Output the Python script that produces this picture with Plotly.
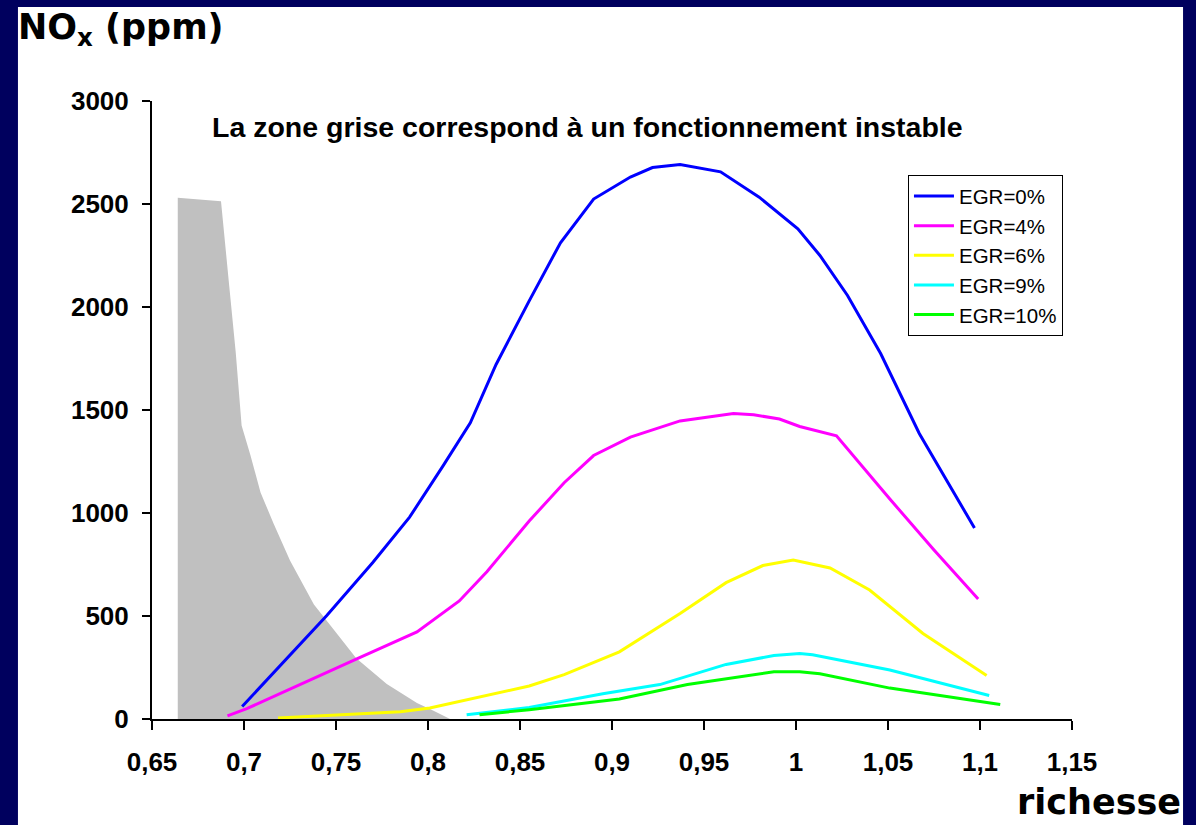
import plotly.graph_objects as go

# Zone grise (fonctionnement instable)
zone_x = [0.664, 0.6875, 0.692, 0.6955, 0.6987, 0.7035, 0.709, 0.716, 0.725, 0.738, 0.750, 0.761, 0.7776, 0.794, 0.803, 0.812]
zone_y = [2530, 2513, 2100, 1780, 1425, 1280, 1100, 950, 770, 556, 420, 295, 170, 78, 40, 0]

# Courbes NOx par taux d'EGR
egr0_x = [0.699, 0.745, 0.770, 0.790, 0.808, 0.823, 0.837, 0.855, 0.872, 0.890, 0.910, 0.922, 0.937, 0.959, 0.980, 1.001, 1.013, 1.028, 1.046, 1.067, 1.097]
egr0_y = [61, 502, 760, 980, 1226, 1438, 1721, 2030, 2312, 2524, 2631, 2677, 2692, 2656, 2533, 2380, 2250, 2056, 1774, 1386, 927]

egr4_x = [0.691, 0.7015, 0.761, 0.794, 0.817, 0.832, 0.855, 0.874, 0.890, 0.910, 0.937, 0.966, 0.977, 0.991, 1.002, 1.022, 1.051, 1.075, 1.099]
egr4_y = [15, 50, 291, 423, 573, 715, 961, 1147, 1279, 1368, 1447, 1483, 1477, 1456, 1420, 1375, 1068, 820, 582]

egr6_x = [0.7185, 0.785, 0.801, 0.855, 0.874, 0.904, 0.937, 0.962, 0.982, 0.9985, 1.0185, 1.040, 1.069, 1.1036]
egr6_y = [5, 35, 53, 160, 215, 326, 512, 662, 745, 772, 733, 626, 415, 211]

egr9_x = [0.821, 0.855, 0.895, 0.926, 0.962, 0.988, 1.002, 1.009, 1.051, 1.105]
egr9_y = [21, 56, 123, 167, 265, 308, 318, 312, 238, 114]

egr10_x = [0.828, 0.855, 0.904, 0.941, 0.988, 1.002, 1.013, 1.051, 1.111]
egr10_y = [21, 45, 97, 167, 229, 229, 220, 150, 70]

noms = ["EGR=0%", "EGR=4%", "EGR=6%", "EGR=9%", "EGR=10%"]
couleurs = ["#0000FF", "#FF00FF", "#FFFF00", "#00FFFF", "#00FF00"]

x_ticks = [0.65, 0.7, 0.75, 0.8, 0.85, 0.9, 0.95, 1, 1.05, 1.1, 1.15]
x_labels = ["0,65", "0,7", "0,75", "0,8", "0,85", "0,9", "0,95", "1", "1,05", "1,1", "1,15"]
y_ticks = [0, 500, 1000, 1500, 2000, 2500, 3000]

FONT = "Liberation Sans, Arial, sans-serif"
FONT_TITRE = "DejaVu Sans, Verdana, sans-serif"

fig = go.Figure()

# zone grise
fig.add_trace(go.Scatter(
    x=zone_x, y=zone_y, mode="lines", fill="tozeroy",
    fillcolor="#C0C0C0", line=dict(color="#C0C0C0", width=0),
    showlegend=False, hoverinfo="skip"
))

series = [(egr0_x, egr0_y), (egr4_x, egr4_y), (egr6_x, egr6_y), (egr9_x, egr9_y), (egr10_x, egr10_y)]
for (xs, ys), nom, coul in zip(series, noms, couleurs):
    fig.add_trace(go.Scatter(
        x=xs, y=ys, mode="lines", name=nom,
        line=dict(color=coul, width=3)
    ))

fig.update_layout(
    width=1196, height=825,
    margin=dict(l=152, r=124, t=101, b=106),
    paper_bgcolor="#00005e",
    plot_bgcolor="white",
    font=dict(family=FONT, color="black"),
    xaxis=dict(
        range=[0.65, 1.15], tickvals=x_ticks, ticktext=x_labels,
        showgrid=False, zeroline=False,
        showline=True, linecolor="black", linewidth=2,
        ticks="outside", ticklen=9, tickwidth=2, tickcolor="black",
        tickfont=dict(size=26, weight="bold", family=FONT),
        ticklabelstandoff=10
    ),
    yaxis=dict(
        range=[0, 3000], tickvals=y_ticks,
        showgrid=False, zeroline=False,
        showline=True, linecolor="black", linewidth=2,
        ticks="outside", ticklen=8, tickwidth=2, tickcolor="black",
        tickfont=dict(size=26, weight="bold", family=FONT),
        ticklabelstandoff=8
    ),
    legend=dict(
        x=0.8217, y=0.880, xanchor="left", yanchor="top",
        bgcolor="white", bordercolor="black", borderwidth=1,
        font=dict(size=20.5, family=FONT),
        itemwidth=40
    ),
    # fond blanc de la diapositive
    shapes=[dict(
        type="rect", xref="paper", yref="paper",
        x0=-0.1457, x1=1.1207, y0=-0.25, y1=1.152,
        fillcolor="white", line=dict(width=0), layer="below"
    )],
    annotations=[
        dict(text="<b>NO<sub>x</sub> (ppm)</b>", xref="paper", yref="paper",
             x=-0.148, y=1.155, xanchor="left", yanchor="top", showarrow=False,
             font=dict(size=35, family=FONT_TITRE)),
        dict(text="<b>richesse</b>", xref="paper", yref="paper",
             x=1.121, y=-0.17, xanchor="right", yanchor="bottom", showarrow=False,
             font=dict(size=35, family=FONT_TITRE)),
        dict(text="<b>La zone grise correspond à un fonctionnement instable</b>",
             xref="paper", yref="paper", x=0.063, y=0.958,
             xanchor="left", yanchor="middle", showarrow=False,
             font=dict(size=28.5, family=FONT)),
    ],
)

# page sans marge pour que la figure occupe toute la fenêtre
fig.write_html("out.html", config={"displayModeBar": False},
               post_script="document.body.style.margin='0';")
